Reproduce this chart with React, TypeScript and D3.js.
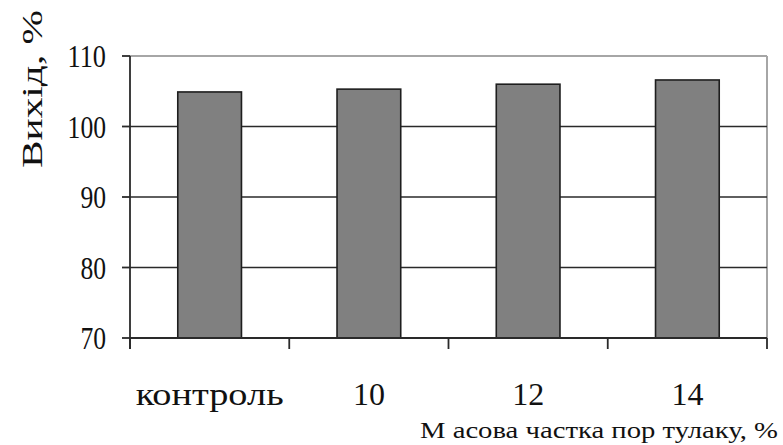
import React from "react";
import * as d3 from "d3";

// Yield by purslane mass fraction
const categories: string[] = ["контроль", "10", "12", "14"];
const yieldValues: number[] = [104.9, 105.3, 106.0, 106.6];
const yTicks: number[] = [70, 80, 90, 100, 110];
const yTitle = "Вихід, %";
const xTitle = "М асова частка пор тулаку, %";

const W = 783;
const H = 445;
const plot = { left: 130, right: 767, top: 56, bottom: 338 };
const FONT = "Liberation Serif, Times New Roman, Tinos, serif";

export default function App() {
  const x = d3
    .scaleBand<string>()
    .domain(categories)
    .range([plot.left, plot.right])
    .paddingInner(0.6)
    .paddingOuter(0.3);
  const step = (plot.right - plot.left) / categories.length;
  const y = d3.scaleLinear().domain([70, 110]).range([plot.bottom, plot.top]);
  const boundaries = d3.range(categories.length + 1).map((i) => plot.left + i * step);

  return (
    <svg
      width={W}
      height={H}
      style={{ position: "absolute", left: 0, top: 0, background: "#fff", fontFamily: FONT }}
    >
      {/* plot frame: top and right edges */}
      <line x1={plot.left} x2={plot.right} y1={y(110)} y2={y(110)} stroke="#a6a6a6" strokeWidth={2} />
      <line x1={plot.right} x2={plot.right} y1={y(110)} y2={plot.bottom} stroke="#a6a6a6" strokeWidth={2} />

      {/* horizontal gridlines */}
      {yTicks
        .filter((t) => t > 70 && t < 110)
        .map((t) => (
          <line key={t} x1={plot.left} x2={plot.right} y1={y(t)} y2={y(t)} stroke="#2a2a2a" strokeWidth={1.6} />
        ))}

      {/* bars */}
      {categories.map((c, i) => (
        <rect
          key={c}
          x={x(c)}
          y={y(yieldValues[i])}
          width={x.bandwidth()}
          height={plot.bottom - y(yieldValues[i])}
          fill="#808080"
          stroke="#1e1e1e"
          strokeWidth={1.6}
        />
      ))}

      {/* y axis */}
      <line x1={plot.left} x2={plot.left} y1={y(110)} y2={plot.bottom + 11} stroke="#2a2a2a" strokeWidth={1.8} />
      {yTicks.map((t) => (
        <g key={t}>
          <line x1={plot.left - 8} x2={plot.left} y1={y(t)} y2={y(t)} stroke="#2a2a2a" strokeWidth={1.8} />
          <text
            x={106}
            y={y(t) + 11}
            textAnchor="end"
            fontSize={31}
            textLength={String(t).length * 12.8}
            lengthAdjust="spacingAndGlyphs"
            fill="#111"
          >
            {t}
          </text>
        </g>
      ))}

      {/* x axis */}
      <line x1={plot.left} x2={plot.right} y1={plot.bottom} y2={plot.bottom} stroke="#2a2a2a" strokeWidth={1.8} />
      {boundaries.map((b, i) => (
        <line key={i} x1={b} x2={b} y1={plot.bottom} y2={plot.bottom + 11} stroke="#2a2a2a" strokeWidth={1.8} />
      ))}
      {categories.map((c) => (
        <text
          key={c}
          x={(x(c) as number) + x.bandwidth() / 2}
          y={405}
          textAnchor="middle"
          fontSize={32}
          fill="#111"
          {...(c.length > 3 ? { textLength: 148, lengthAdjust: "spacingAndGlyphs" } : {})}
        >
          {c}
        </text>
      ))}

      {/* axis titles */}
      <text
        transform="translate(42,168) rotate(-90)"
        fontSize={30}
        textLength={158}
        lengthAdjust="spacingAndGlyphs"
        fill="#111"
      >
        {yTitle}
      </text>
      <text
        x={778}
        y={438}
        textAnchor="end"
        fontSize={24}
        textLength={358}
        lengthAdjust="spacingAndGlyphs"
        fill="#111"
      >
        {xTitle}
      </text>
    </svg>
  );
}
